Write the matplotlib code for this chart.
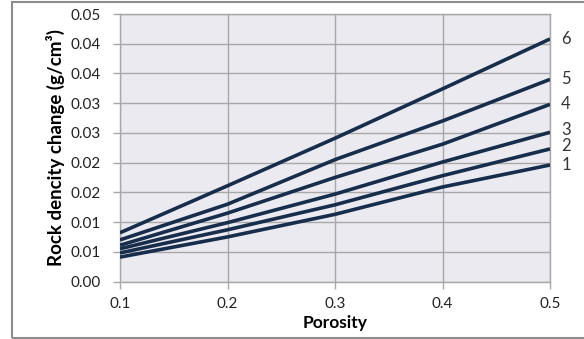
import matplotlib
matplotlib.use('Agg')
import matplotlib.pyplot as plt
from matplotlib.patches import Rectangle

plt.rcParams['font.family'] = ['Lato', 'DejaVu Sans']

# Data
porosity = [0.1, 0.2, 0.3, 0.4, 0.5]
curve_1 = [0.0041, 0.0075, 0.0113, 0.0159, 0.0196]
curve_2 = [0.0048, 0.0087, 0.0129, 0.0178, 0.0223]
curve_3 = [0.0055, 0.0099, 0.0147, 0.0201, 0.0251]
curve_4 = [0.0061, 0.0115, 0.0175, 0.0231, 0.0298]
curve_5 = [0.0070, 0.0130, 0.0205, 0.0270, 0.0340]
curve_6 = [0.0082, 0.0161, 0.0241, 0.0324, 0.0408]
curve_names = ['1', '2', '3', '4', '5', '6']

y_ticks = [0.0, 0.005, 0.01, 0.015, 0.02, 0.025, 0.03, 0.035, 0.04, 0.045]
y_tick_labels = ['0.00', '0.01', '0.01', '0.02', '0.02', '0.03', '0.03', '0.04', '0.04', '0.05']
x_ticks = [0.1, 0.2, 0.3, 0.4, 0.5]

line_color = '#172d4c'
grid_color = '#a8a8a8'

fig = plt.figure(figsize=(5.84, 3.39), dpi=100)
ax = fig.add_axes([120 / 584, 57.5 / 339, 430 / 584, 267.5 / 339])
ax.set_facecolor('#ebeaf0')

curves = [curve_1, curve_2, curve_3, curve_4, curve_5, curve_6]
label_offsets = [0, 2, 2, 0, 0, 0]
for vals, name, off in zip(curves, curve_names, label_offsets):
    ax.plot(porosity, vals, color=line_color, linewidth=2.6, solid_capstyle='butt', zorder=3)
    ax.annotate(name, xy=(porosity[-1], vals[-1]), xytext=(8, off), textcoords='offset points',
                va='center', ha='left', fontsize=12, color='#333333', annotation_clip=False)

ax.set_xlim(0.1, 0.5)
ax.set_ylim(0, 0.045)
ax.set_xticks(x_ticks)
ax.set_xticklabels([str(x) for x in x_ticks])
ax.set_yticks(y_ticks)
ax.set_yticklabels(y_tick_labels)
ax.tick_params(axis='both', direction='out', length=5, width=1, color=grid_color,
               labelsize=11, labelcolor='#222222')
ax.tick_params(axis='y', pad=9)
ax.tick_params(axis='x', pad=6)

ax.grid(True, color=grid_color, linewidth=1)
ax.set_axisbelow(True)
for s in ax.spines.values():
    s.set_color(grid_color)
    s.set_linewidth(1)

ax.set_xlabel('Porosity', fontsize=12.5, fontweight='bold', labelpad=3)
ax.set_ylabel('Rock dencity change (g/cm³)', fontsize=13.5, fontweight='bold', labelpad=4)

# outer chart border
fig.patches.append(Rectangle((12 / 584, 1 / 339), 1.0, 336 / 339, transform=fig.transFigure,
                             fill=False, edgecolor='#8c8c8c', linewidth=1.5))

plt.savefig('out.png', dpi=100)
